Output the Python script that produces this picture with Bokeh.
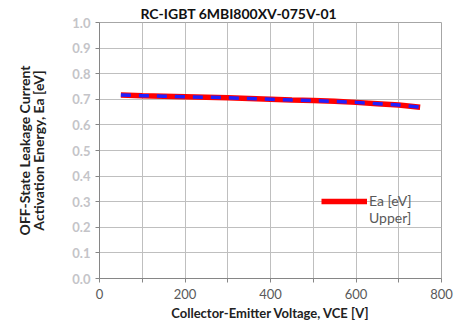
from bokeh.plotting import figure
from bokeh.models import Range1d, FixedTicker, Legend, LegendItem, ColumnDataSource, Title
from bokeh.embed import file_html
from bokeh.resources import INLINE

vce = [50, 100, 150, 200, 250, 300, 350, 400, 450, 500, 550, 600, 650, 700, 750]
ea = [0.717, 0.714, 0.712, 0.710, 0.708, 0.706, 0.703, 0.700, 0.697, 0.695, 0.692, 0.688, 0.683, 0.678, 0.669]
ea_upper = [0.717, 0.714, 0.712, 0.710, 0.708, 0.706, 0.703, 0.700, 0.697, 0.695, 0.692, 0.688, 0.683, 0.678, 0.669]
x_ticks = [0, 200, 400, 600, 800]
x_minor = [100, 300, 500, 700]
y_ticks = [0.0, 0.1, 0.2, 0.3, 0.4, 0.5, 0.6, 0.7, 0.8, 0.9, 1.0]
title_text = "RC-IGBT 6MBI800XV-075V-01"
x_label = "Collector-Emitter Voltage, VCE [V]"
y_label = "OFF-State Leakage Current\nActivation Energy, Ea [eV]"
legend_labels = ["Ea [eV]", "Upper]"]

FONT = "Lato"

p = figure(width=466, height=325, output_backend="svg", toolbar_location=None,
           x_range=Range1d(0, 800), y_range=Range1d(0, 1.0),
           min_border_left=99, min_border_right=25, min_border_top=22, min_border_bottom=47)
p.title = None
t = Title(text=title_text, align="left", offset=41, standoff=2,
          text_font=FONT, text_font_size="14px", text_font_style="bold", text_color="#111111")
p.add_layout(t, "above")

p.background_fill_color = "white"
p.border_fill_color = "white"
p.outline_line_color = "#a6a6a6"

p.xaxis.ticker = FixedTicker(ticks=x_ticks, minor_ticks=x_minor)
p.yaxis.ticker = FixedTicker(ticks=y_ticks)
p.yaxis.major_label_overrides = {v: f"{v:.1f}" for v in y_ticks}

for ax in (p.xaxis[0], p.yaxis[0]):
    ax.axis_line_color = "#868686"
    ax.major_tick_line_color = "#868686"
    ax.minor_tick_line_color = "#868686"
    ax.major_tick_in = 0
    ax.major_tick_out = 4
    ax.minor_tick_in = 0
    ax.minor_tick_out = 4
    ax.major_label_text_font = FONT
    ax.major_label_text_font_size = "13px"
    ax.axis_label_text_font = FONT
    ax.axis_label_text_font_style = "bold"
    ax.axis_label_text_font_size = "13px"
    ax.axis_label_text_color = "#222222"

p.xaxis.major_label_text_color = "#595959"
p.xaxis.major_label_standoff = 6
p.xaxis.axis_label = x_label
p.xaxis.axis_label_standoff = 3
p.yaxis.minor_tick_line_color = None
p.yaxis.major_label_text_color = "#c4c4c8"
p.yaxis.major_label_text_font_style = "bold"
p.yaxis.axis_label = y_label
p.yaxis.axis_label_text_font_size = "14px"
p.yaxis.axis_label_text_line_height = 0.85
p.yaxis.axis_label_standoff = 22

p.xgrid.grid_line_color = "#bfbfbf"
p.xgrid.minor_grid_line_color = "#bfbfbf"
p.ygrid.grid_line_color = "#bfbfbf"

src = ColumnDataSource(dict(x=vce, y=ea, yu=ea_upper))
r1 = p.line("x", "y", source=src, line_color="#ff0000", line_width=5.5)
r2 = p.line("x", "yu", source=src, line_color="#2020ff", line_width=3.5, line_dash="10 8")
dummy = p.line(x=[], y=[], line_alpha=0)

legend = Legend(items=[LegendItem(label=legend_labels[0], renderers=[r1]),
                       LegendItem(label=legend_labels[1], renderers=[dummy])],
                location=(222, 52), spacing=0, padding=4, margin=0,
                label_text_font=FONT, label_text_font_size="14px", label_text_color="#595959",
                glyph_width=46, glyph_height=16, label_height=16, label_standoff=2,
                border_line_color=None, background_fill_alpha=0)
p.add_layout(legend, "center")

open("out.html", "w").write(file_html(p, INLINE))
